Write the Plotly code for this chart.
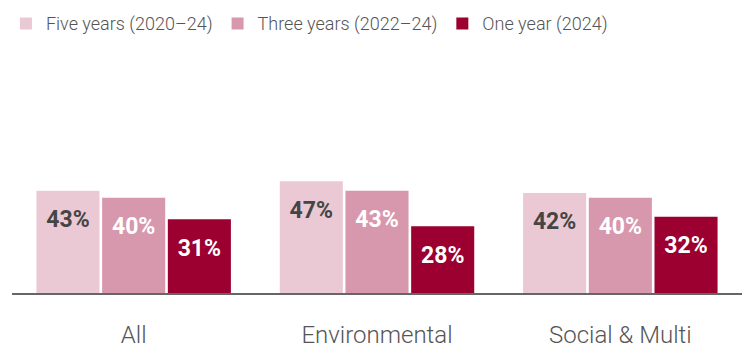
import plotly.graph_objects as go

categories = ["All", "Environmental", "Social &amp; Multi"]
series_names = ["Five years (2020–24)", "Three years (2022–24)", "One year (2024)"]
five_years = [43, 47, 42]
three_years = [40, 43, 40]
one_year = [31, 28, 32]

colors = ["#EBC9D4", "#D798AD", "#9B0031"]
text_colors = ["#454545", "#FFFFFF", "#FFFFFF"]
FONT = "Roboto, sans-serif"
GAP = 0.19

fig = go.Figure()
all_series = [five_years, three_years, one_year]
for i, (name, vals, c) in enumerate(zip(series_names, all_series, colors)):
    fig.add_trace(go.Bar(
        x=categories, y=vals, name=name, offsetgroup=str(i),
        marker=dict(color=c, line=dict(width=0)),
        hoverinfo="skip",
    ))
for i, (vals, tc) in enumerate(zip(all_series, text_colors)):
    fig.add_trace(go.Scatter(
        x=categories, y=vals, offsetgroup=str(i), mode="markers+text",
        text=[f"{v}%" for v in vals], textposition="bottom center",
        marker=dict(size=29, opacity=0),
        textfont=dict(family=FONT, size=23, color=tc, weight="bold"),
        showlegend=False, hoverinfo="skip", cliponaxis=False,
    ))

fig.update_layout(
    width=742, height=350,
    margin=dict(l=12, r=0, t=55, b=57),
    plot_bgcolor="white", paper_bgcolor="white",
    barmode="group", bargap=GAP, bargroupgap=0.04,
    scattermode="group", scattergap=GAP,
    font=dict(family=FONT, color="#555555"),
    legend=dict(orientation="h", xref="container", yref="container",
                x=0.008, y=0.985, xanchor="left", yanchor="top",
                font=dict(size=18, color="#555555", weight=300), itemwidth=30,
                traceorder="normal"),
    xaxis=dict(showline=True, linecolor="#666666", linewidth=2,
               tickfont=dict(size=24, color="#555555", weight=300),
               ticklabelstandoff=19, ticks=""),
    yaxis=dict(range=[0, 100], visible=False, showgrid=False),
)
fig.write_html("out.html")
